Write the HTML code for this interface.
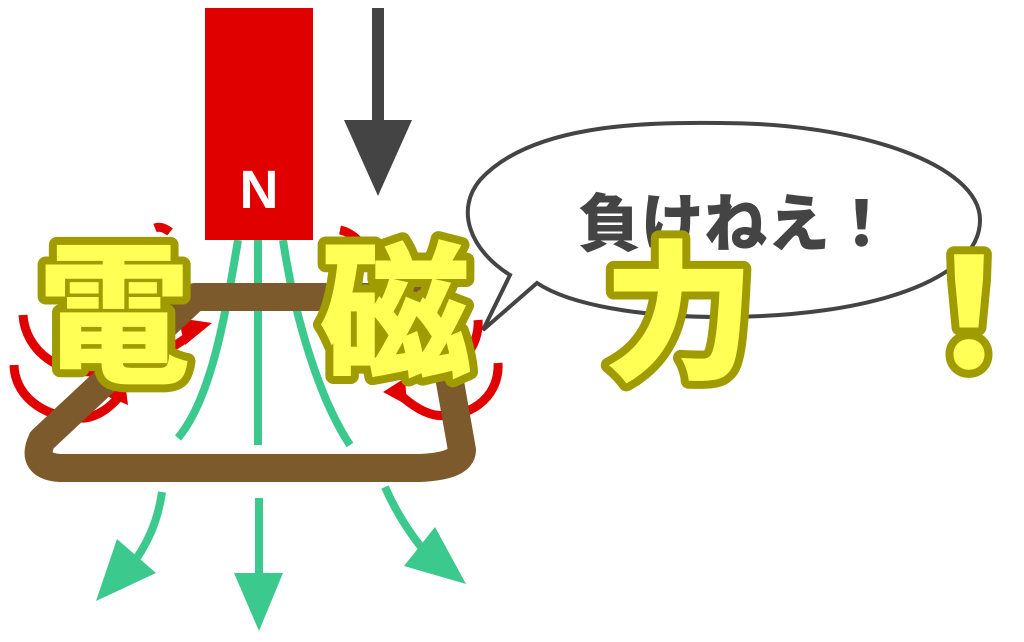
<!DOCTYPE html>
<html><head><meta charset="utf-8"><style>
html,body{margin:0;padding:0;background:#fff;}
svg{display:block}
.big{font-family:"Noto Sans CJK JP","Liberation Sans",sans-serif;font-weight:900;fill:#ffff55;stroke:#a09c00;stroke-width:16;paint-order:stroke;stroke-linejoin:round}
</style></head><body>
<svg width="1024" height="642" viewBox="0 0 1024 642" xmlns="http://www.w3.org/2000/svg">
<path d="M510,275 C470,250 455,210 480,180 C530,125 640,122 721,123 C860,123 980,165 980,220 C980,280 870,317 721,317 C640,317 570,305 537,283 L483,330 Z" fill="#fff" stroke="#444" stroke-width="4" stroke-linejoin="miter"/>
<text x="578" y="246" font-family="'Liberation Sans','Noto Sans CJK JP',sans-serif" font-weight="900" font-size="63" fill="#444">負けねえ！</text>
<line x1="378" y1="8" x2="378" y2="140" stroke="#444" stroke-width="12"/>
<polygon points="344,120 412,120 378,196" fill="#444"/>
<g fill="none" stroke="#e00000" stroke-width="9">
<path d="M23,315 C25,350 60,380 110,370 C150,362 180,345 195,330"/>
<path d="M14,365 C15,400 50,420 85,418 C100,416 112,405 118,398"/>
<path d="M498,363 C500,400 465,420 435,415 C420,412 405,400 398,392"/>
<path d="M478,320 C480,345 460,375 420,378"/>
<path d="M340,230 C350,232 360,240 365,250"/>
<path d="M155,228 C160,226 165,228 170,232"/>
</g>
<polygon points="178,318 212,323 185,345" fill="#e00000"/>
<polygon points="97,392 125,382 128,405" fill="#e00000"/>
<polygon points="405,378 383,392 407,405" fill="#e00000"/>
<g fill="none" stroke="#3cc98e" stroke-width="8">
<line x1="258" y1="240" x2="258" y2="445"/>
<path d="M238,240 C225,320 210,400 178,438"/>
<path d="M283,240 C295,320 320,400 350,445"/>
<path d="M162,492 C158,520 148,545 128,570"/>
<line x1="259" y1="498" x2="259" y2="585"/>
<path d="M385,487 C395,510 410,535 428,555"/>
</g>
<polygon points="96,601 117,539 156,573" fill="#3cc98e"/>
<polygon points="259,631 234,573 283,573" fill="#3cc98e"/>
<polygon points="466,584 435,527 404,566" fill="#3cc98e"/>
<path d="M195,297 L435,297 L462,450 Q462,466 420,468 L60,468 Q30,466 42,440 Z" fill="none" stroke="#7d5a2c" stroke-width="28" stroke-linejoin="round"/>
<rect x="205" y="8" width="108" height="232" fill="#e00000"/>
<text x="259" y="208" text-anchor="middle" font-family="'Liberation Sans',sans-serif" font-weight="bold" font-size="54" fill="#fff">N</text>
<text class="big" x="38" y="370" font-size="152">電</text>
<text class="big" x="320" y="367" font-size="152">磁</text>
<text class="big" x="603" y="368" font-size="152">力</text>
<text class="big" x="893" y="368" font-size="152">！</text>
</svg>
</body></html>
